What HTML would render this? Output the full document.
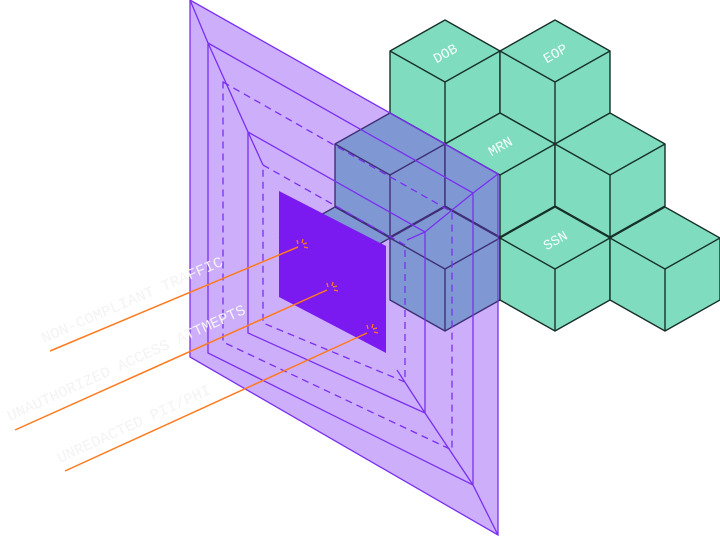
<!DOCTYPE html>
<html><head><meta charset="utf-8"><style>
html,body{margin:0;padding:0;background:#fff;width:720px;height:537px;overflow:hidden}
svg{display:block}
</style></head><body>
<svg width="720" height="537" viewBox="0 0 720 537" xmlns="http://www.w3.org/2000/svg">
<defs>
<g id="cube">
<polygon points="0,0 -55,31 0,62 55,31" fill="#80dcbf"/>
<polygon points="-55,31 0,62 0,124 -55,93" fill="#80dcbf"/>
<polygon points="55,31 0,62 0,124 55,93" fill="#80dcbf"/>
<g fill="none" stroke="#17302a" stroke-width="1.4" stroke-linejoin="round">
<polygon points="0,0 -55,31 -55,93 0,124 55,93 55,31"/>
<polyline points="-55,31 0,62 55,31"/>
<line x1="0" y1="62" x2="0" y2="124"/>
</g>
</g>
</defs>
<use href="#cube" x="445" y="20"/>
<use href="#cube" x="555" y="20"/>
<use href="#cube" x="390" y="113"/>
<use href="#cube" x="500" y="113"/>
<use href="#cube" x="610" y="113"/>
<polygon points="335,207 280,238 335,269 390,238" fill="#80dcbf" stroke="#17302a" stroke-width="1.4"/>
<use href="#cube" x="445" y="207"/>
<use href="#cube" x="555" y="207"/>
<use href="#cube" x="665" y="207"/>
<g font-family="Liberation Mono, monospace" font-size="14" fill="#f2fffa">
<text x="445" y="58" text-anchor="middle" transform="rotate(-29.4 445 53)">DOB</text>
<text x="555" y="58" text-anchor="middle" transform="rotate(-29.4 555 53)">EOP</text>
<text x="500" y="151" text-anchor="middle" transform="rotate(-29.4 500 146)">MRN</text>
<text x="555" y="245" text-anchor="middle" transform="rotate(-29.4 555 240)">SSN</text>
</g>
<polygon points="190,0 498,174 498,535 190,357" fill="rgba(127,47,242,0.39)" stroke="#7a2ff0" stroke-width="1.3"/>
<polygon points="279,191 386,246 386,353 279,297" fill="#7a1af0"/>
<g fill="none" stroke="#7a2ff0" stroke-width="1.3">
<polygon points="208,43 473,193 473,485 208,353"/>
<polygon points="248,132 425,232 425,413 248,333"/>
<g stroke-dasharray="7,5">
<polygon points="223,82 452,212 452,450 223,342"/>
<polygon points="263,165 405,245 405,382 263,323"/>
</g>
<polyline points="190,0 208,43 248,132 263,165"/>
<polyline points="498,535 473,485 425,413 397,370"/>
<polyline points="498,174 473,193 425,232 407,240"/>
</g>
<g stroke="#ff7a1e" stroke-width="1.5" fill="none">
<line x1="50" y1="351" x2="298" y2="247"/>
<line x1="15" y1="430" x2="327" y2="290"/>
<line x1="65" y1="471" x2="367" y2="333"/>
<g stroke-width="1.3">
<path d="M297,240 l1,4 M303,239 l-1,4 M307,243 l-4,1 M308,248 l-4,-1"/>
<path d="M327,283 l1,4 M333,282 l-1,4 M337,286 l-4,1 M338,291 l-4,-1"/>
<path d="M367,325 l1,4 M373,324 l-1,4 M377,328 l-4,1 M378,333 l-4,-1"/>
</g>
</g>
<g font-family="Liberation Mono, monospace" font-size="15" fill="#f3f3f3">
<text x="44" y="343" textLength="196" lengthAdjust="spacingAndGlyphs" transform="rotate(-23.4 44 343)">NON-COMPLIANT TRAFFIC</text>
<text x="10" y="421" textLength="260" lengthAdjust="spacingAndGlyphs" transform="rotate(-24.5 10 421)">UNAUTHORIZED ACCESS ATTMEPTS</text>
<text x="60" y="463" textLength="167" lengthAdjust="spacingAndGlyphs" transform="rotate(-24.7 60 463)">UNREDACTED PII/PHI</text>
</g>
</svg>
</body></html>
